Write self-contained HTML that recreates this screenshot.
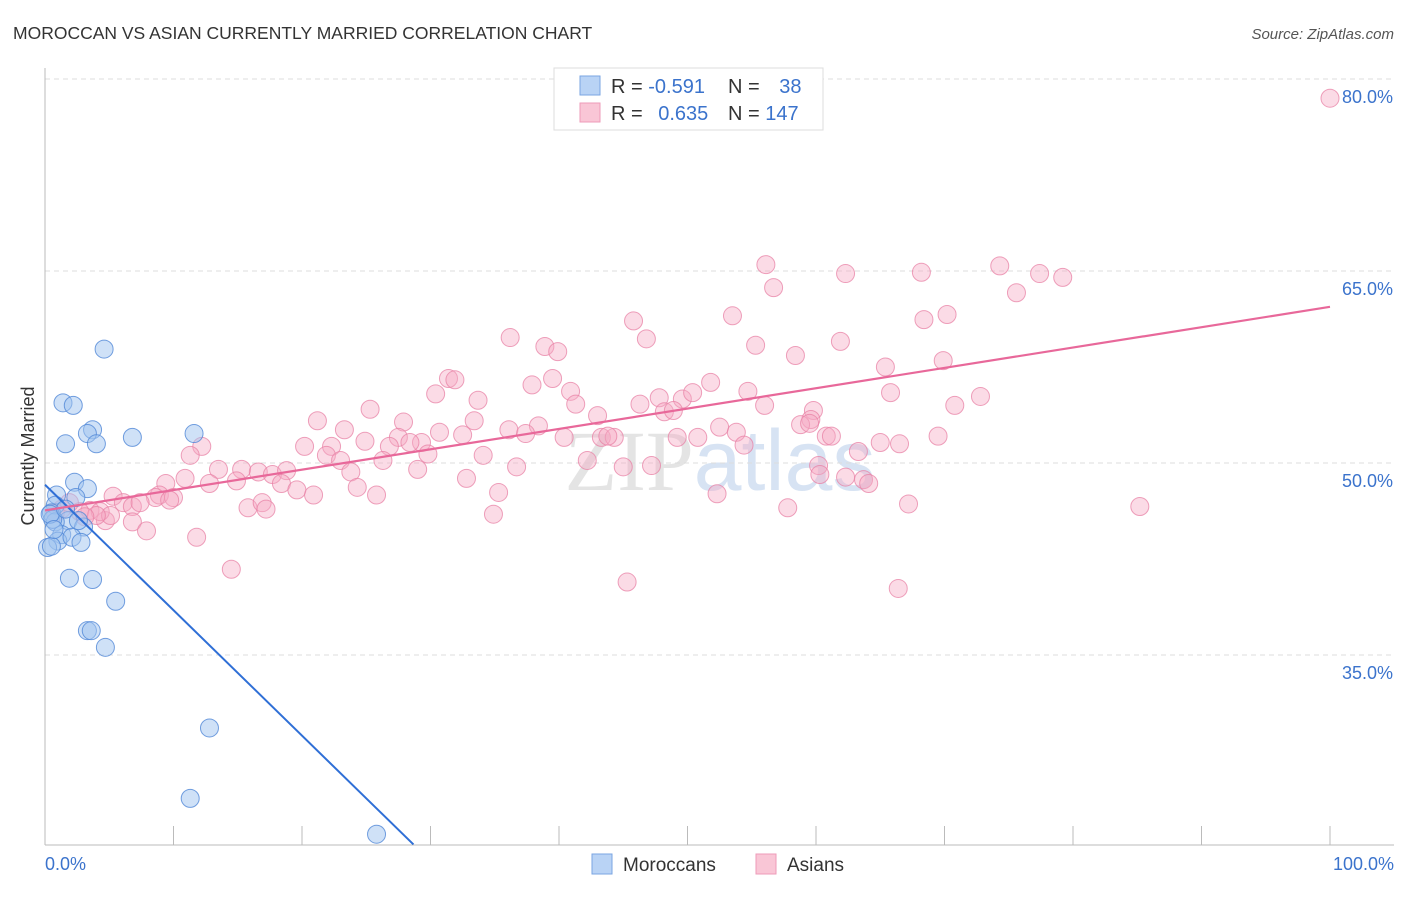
<!DOCTYPE html>
<html><head><meta charset="utf-8"><style>
body{margin:0;background:#fff;font-family:"Liberation Sans",sans-serif}
#c{position:relative;width:1406px;height:892px}
</style></head><body>
<div id="c">
<svg id="s" width="1406" height="892" xmlns="http://www.w3.org/2000/svg">
<text x="13" y="39" font-size="17.5" fill="#333">MOROCCAN VS ASIAN CURRENTLY MARRIED CORRELATION CHART</text>
<text x="1394" y="39" font-size="15" fill="#555" font-style="italic" text-anchor="end">Source: ZipAtlas.com</text>
<text x="720" y="490" font-size="86" fill="#e4e4e4" text-anchor="middle" font-family="Liberation Serif,serif">ZIP<tspan fill="#d7e3f3" font-family="Liberation Sans,sans-serif">atlas</tspan></text>
<text transform="translate(34,456) rotate(-90)" font-size="18" fill="#333" text-anchor="middle">Currently Married</text>
<g id="grid"></g><g id="pts"></g><g id="lines"></g>
<g>
<rect x="554" y="68" width="269" height="62" fill="#fff" stroke="#ddd"/>
<rect x="580" y="76" width="20" height="19" fill="#b9d3f5" stroke="#7aa5e2"/>
<rect x="580" y="103" width="20" height="19" fill="#f9c6d6" stroke="#ee9bb8"/>
<text x="611" y="93" font-size="20" fill="#333">R = <tspan fill="#3b73cc">-0.591</tspan></text>
<text x="728" y="93" font-size="20" fill="#333">N = <tspan fill="#3b73cc" dx="14">38</tspan></text>
<text x="611" y="120" font-size="20" fill="#333">R = <tspan fill="#3b73cc" dx="10">0.635</tspan></text>
<text x="728" y="120" font-size="20" fill="#333">N = <tspan fill="#3b73cc">147</tspan></text>
</g>
<g>
<rect x="592" y="854" width="20" height="20" fill="#b9d3f5" stroke="#7aa5e2"/>
<text x="623" y="871" font-size="19" fill="#333">Moroccans</text>
<rect x="756" y="854" width="20" height="20" fill="#f9c6d6" stroke="#ee9bb8"/>
<text x="787" y="871" font-size="19" fill="#333">Asians</text>
</g>
</svg></div>
<script>
const yTicks=[35,50,65,80];
const yTickLabels=["35.0%","50.0%","65.0%","80.0%"];
const xTicks=[0,10,20,30,40,50,60,70,80,90,100];
const blueX=[4.6,1.4,2.2,3.7,3.3,4.0,1.6,6.8,11.6,2.3,3.3,0.9,2.4,0.8,0.5,1.8,3.0,0.8,1.3,1.0,2.1,2.8,0.2,0.5,1.9,3.7,5.5,3.3,3.6,4.7,12.8,11.3,25.8,0.6,0.4,1.6,2.6,0.7];
const blueY=[58.9,54.7,54.5,52.6,52.3,51.5,51.5,52.0,52.3,48.5,48.0,47.5,47.3,46.7,46.1,45.5,45.0,45.4,44.4,43.9,44.2,43.8,43.4,43.5,41.0,40.9,39.2,36.9,36.9,35.6,29.3,23.8,21.0,45.6,46.0,46.4,45.5,44.8];
const pinkX=[100,56.1,74.3,68.2,77.4,62.3,56.7,75.6,79.2,45.8,53.5,68.4,70.2,36.2,46.8,38.9,39.9,55.3,61.9,58.4,69.9,65.4,31.4,31.9,39.5,37.9,51.8,40.9,33.7,30.4,47.8,49.6,50.4,54.7,65.8,72.8,41.3,46.3,25.3,21.2,27.9,33.4,43.0,48.2,48.9,56.0,59.8,70.8,38.4,59.6,23.3,30.7,32.5,36.1,27.5,37.4,52.5,53.8,58.8,59.5,40.4,43.3,44.3,43.8,50.8,54.4,60.8,61.2,65.0,66.5,69.5,12.2,20.2,22.3,29.3,24.9,26.8,28.4,34.1,49.2,63.3,11.3,21.9,23.0,26.3,29.8,42.2,36.7,45.0,47.2,60.2,13.5,15.3,16.6,17.7,18.8,23.8,29.0,32.8,60.3,62.3,63.7,64.1,10.9,12.8,14.9,9.4,18.4,19.6,20.9,24.3,25.8,35.3,8.9,8.6,5.3,10.0,6.1,6.8,15.8,16.9,17.2,9.7,52.3,57.8,67.2,85.2,34.9,6.8,4.7,7.9,11.8,14.5,45.3,66.4,3.5,4.3,2.7,1.3,1.9,0.8,5.1,4.0,3.1,7.4];
const pinkY=[78.5,65.5,65.4,64.9,64.8,64.8,63.7,63.3,64.5,61.1,61.5,61.2,61.6,59.8,59.7,59.1,58.7,59.2,59.5,58.4,58.0,57.5,56.6,56.5,56.6,56.1,56.3,55.6,54.9,55.4,55.1,55.0,55.5,55.6,55.5,55.2,54.6,54.6,54.2,53.3,53.2,53.3,53.7,54.0,54.1,54.5,54.1,54.5,52.9,53.4,52.6,52.4,52.2,52.6,52.0,52.3,52.8,52.4,53.0,53.1,52.0,52.0,52.0,52.1,52.0,51.4,52.1,52.1,51.6,51.5,52.1,51.3,51.3,51.3,51.6,51.7,51.3,51.6,50.6,52.0,50.9,50.6,50.6,50.2,50.2,50.7,50.2,49.7,49.7,49.8,49.8,49.5,49.5,49.3,49.1,49.4,49.3,49.5,48.8,49.1,48.9,48.7,48.4,48.8,48.4,48.6,48.4,48.4,47.9,47.5,48.1,47.5,47.7,47.5,47.3,47.4,47.3,46.9,46.6,46.5,46.9,46.4,47.1,47.6,46.5,46.8,46.6,46.0,45.4,45.5,44.7,44.2,41.7,40.7,40.2,46.3,46.2,46.2,46.4,46.9,46.1,45.9,45.9,45.8,46.9];
const blueTrend=[48.3,-0.98];
const pinkTrend=[46.3,0.159];
const NS="http://www.w3.org/2000/svg";
const X0=45,X1=1330,YB=845,YT=68;
function sx(v){return X0+(X1-X0)*v/100;}
function sy(v){return 463-(v-50)*12.8;}
function mk(tag,a,parent){const e=document.createElementNS(NS,tag);for(const k in a)e.setAttribute(k,a[k]);parent.appendChild(e);return e;}
const grid=document.getElementById('grid'),pts=document.getElementById('pts'),lines=document.getElementById('lines');
yTicks.forEach((t,i)=>{
 const l=mk('line',{x1:X0,x2:1394,y1:sy(t),y2:sy(t),stroke:'#ddd','stroke-dasharray':'5,4'},grid);
 
 
 const tx=mk('text',{x:1393,y:sy(t)+24,'font-size':18,fill:'#3b73cc','text-anchor':'end'},grid);
 tx.textContent=yTickLabels[i];
 
 
});
const ax=mk('line',{x1:X0,x2:X0,y1:YT,y2:YB,stroke:'#bbb'},grid);


const bx=mk('line',{x1:X0,x2:1394,y1:YB,y2:YB,stroke:'#bbb'},grid);


xTicks.forEach(t=>{
 const l=mk('line',{x1:sx(t),x2:sx(t),y1:YB-19,y2:YB,stroke:'#bbb'},grid);
 
 
});
[[0,'0.0%','start',45],[100,'100.0%','end',1394]].forEach(a=>{
 const t=mk('text',{x:a[3],y:870,'font-size':18,fill:'#3b73cc','text-anchor':a[2]},grid);
 t.textContent=a[1];
 
 
});
pinkX.forEach((x,i)=>{
 const c=mk('circle',{cx:sx(x),cy:sy(pinkY[i]),r:9,fill:'rgba(246,170,196,0.42)',stroke:'rgba(232,130,165,0.75)','stroke-width':1},pts);
 
 
});
blueX.forEach((x,i)=>{
 const c=mk('circle',{cx:sx(x),cy:sy(blueY[i]),r:9,fill:'rgba(160,196,240,0.5)',stroke:'rgba(80,135,215,0.8)','stroke-width':1},pts);
 
 
});
const bEnd=(20.2-blueTrend[0])/blueTrend[1];
const bl=mk('line',{x1:sx(0),y1:sy(blueTrend[0]),x2:sx(bEnd),y2:sy(20.2),stroke:'#2f6fd6','stroke-width':2},lines);


const pl=mk('line',{x1:sx(0),y1:sy(pinkTrend[0]),x2:sx(100),y2:sy(pinkTrend[0]+100*pinkTrend[1]),stroke:'#e8689a','stroke-width':2.2},lines);


</script>
</body></html>
